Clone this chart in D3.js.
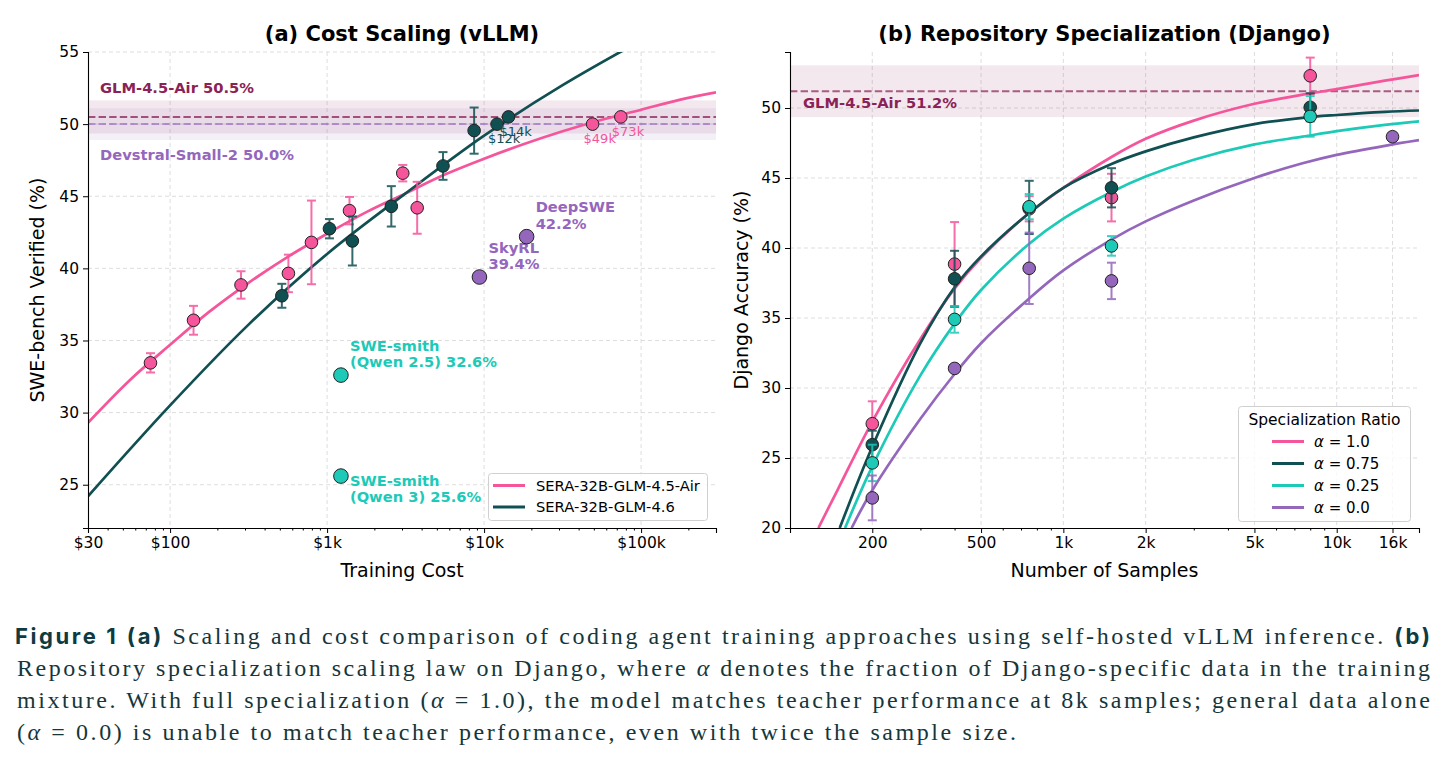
<!DOCTYPE html>
<meta charset="utf-8">
<style>
body { margin: 0; background: #fff; }
svg { font-family: "DejaVu Sans", sans-serif; }
.grid line { stroke: #d9d9d9; stroke-dasharray: 4,3; stroke-width: 0.9; }
.axis .domain { stroke: #000; stroke-width: 1.1; }
.axis line { stroke: #000; stroke-width: 1; }
.axis text { fill: #000; }
.ann { font-weight: bold; font-size: 14.7px; }
.caption text { font-family: "Liberation Serif", serif; font-size: 24px; fill: #15363b; }
.caption .hd { font-family: Inter, "DejaVu Sans", sans-serif; font-weight: 700; font-size: 22px; fill: #0d3b41; }
</style>
<svg width="1447" height="767"></svg>
<script src="https://cdn.jsdelivr.net/npm/d3@7"></script>
<script>

// ---------- (a) cost scaling ----------
var airCost  = [75, 141, 283, 567, 795, 1389, 3034, 3748, 49100, 74300];
var airScore = [33.45, 36.4, 38.85, 39.65, 41.8, 44.0, 46.6, 44.2, 50.0, 50.5];
var airErr   = [0.67, 1.0, 0.95, 1.3, 2.9, 0.95, 0.57, 1.8, 0, 0];
var airCostLabels = ["", "", "", "", "", "", "", "", "$49k", "$73k"];

var g46Cost  = [515, 1035, 1449, 2565, 5473, 8640, 12090, 14300];
var g46Score = [38.1, 42.75, 41.9, 44.3, 47.1, 49.55, 50.0, 50.5];
var g46Err   = [0.83, 0.67, 1.7, 1.4, 0.96, 1.6, 0, 0];
var g46CostLabels = ["", "", "", "", "", "", "$12k", "$14k"];

// fitted curves
var airFitCost = [30, 56, 100, 178, 316, 562, 1000, 1778, 3162, 5623, 10000, 17783, 31623, 56234, 100000, 177828, 300000];
var airFitVal  = [29.3, 32.3, 34.7, 37.0, 39.0, 40.8, 42.4, 43.9, 45.2, 46.5, 47.6, 48.6, 49.5, 50.3, 51.0, 51.7, 52.2];
var g46FitCost = [30, 100, 316, 1000, 3162, 10000, 31623, 100000];
var g46FitVal  = [24.2, 30.5, 36.1, 41.0, 45.2, 49.2, 52.7, 55.8];

var otherName  = [["SkyRL", "39.4%"], ["DeepSWE", "42.2%"], ["SWE-smith", "(Qwen 2.5) 32.6%"], ["SWE-smith", "(Qwen 3) 25.6%"]];
var otherCost  = [9340, 18660, 1225, 1225];
var otherScore = [39.4, 42.2, 32.6, 25.6];

var refName  = ["GLM-4.5-Air 50.5%", "Devstral-Small-2 50.0%"];
var refScore = [50.5, 50.0];
var refBand  = [1.15, 1.1];

var costTicks = [30, 100, 1000, 10000, 100000];
var costTickLabels = ["$30", "$100", "$1k", "$10k", "$100k"];
var scoreTicks = [25, 30, 35, 40, 45, 50, 55];

// ---------- (b) repository specialization ----------
var alphaNames = ["1.0", "0.75", "0.25", "0.0"];
var sampN = [
  [200, 400, 750, 1500, 8000],
  [200, 400, 750, 1500, 8000],
  [200, 400, 750, 1500, 8000],
  [200, 400, 750, 1500, 16000]
];
var sampAcc = [
  [27.45, 38.85, 42.8, 43.6, 52.3],
  [25.95, 37.8, 42.9, 44.3, 50.05],
  [24.65, 34.9, 42.95, 40.15, 49.4],
  [22.15, 31.4, 38.55, 37.65, 47.95]
];
var sampErr = [
  [1.6, 3.0, 0.9, 1.7, 1.3],
  [1.0, 2.0, 1.9, 1.4, 1.0],
  [1.3, 0.95, 0.9, 0.7, 1.45],
  [1.6, 0, 2.55, 1.3, 0]
];
var fitN = [
  [127, 150, 200, 300, 400, 500, 750, 1000, 1500, 2000, 3000, 5000, 7500, 10000, 15000, 20000],
  [152, 200, 300, 400, 500, 750, 1000, 1500, 2000, 3000, 5000, 7500, 10000, 15000, 20000],
  [159, 200, 300, 400, 500, 750, 1000, 1500, 2000, 3000, 5000, 7500, 10000, 15000, 20000],
  [168, 200, 300, 400, 500, 750, 1000, 1500, 2000, 3000, 5000, 7500, 10000, 15000, 20000]
];
var fitAcc = [
  [20.0, 22.8, 27.6, 33.5, 37.1, 39.3, 42.5, 44.3, 46.5, 47.8, 49.1, 50.3, 50.95, 51.35, 51.95, 52.35],
  [20.0, 25.8, 33.2, 37.2, 39.4, 42.5, 44.3, 46.0, 46.9, 47.9, 48.85, 49.3, 49.5, 49.72, 49.82],
  [20.0, 24.4, 30.9, 34.6, 37.0, 40.3, 42.1, 44.0, 45.1, 46.3, 47.4, 47.95, 48.35, 48.8, 49.05],
  [20.0, 22.7, 27.8, 31.0, 33.2, 36.4, 38.4, 40.6, 41.9, 43.4, 45.0, 46.05, 46.65, 47.3, 47.7]
];
var teacherName = "GLM-4.5-Air 51.2%";
var teacherAcc = 51.2, teacherBand = 1.85;

var sampTicks = [200, 500, 1000, 2000, 5000, 10000, 16000];
var sampTickLabels = ["200", "500", "1k", "2k", "5k", "10k", "16k"];
var accTicks = [20, 25, 30, 35, 40, 45, 50];

// ---------- colours ----------
var pink = "#f5559b", dark = "#104f52", cyan = "#1ccab7", purple = "#9467bd", maroon = "#8b2256";
var alphaColors = [pink, dark, cyan, purple];

var svg = d3.select("svg");
svg.append("rect").attr("width", 1447).attr("height", 767).attr("fill", "#fff");

var defs = svg.append("defs");
defs.append("clipPath").attr("id", "clipA").append("rect").attr("x", 88).attr("y", 52).attr("width", 628).attr("height", 476);
defs.append("clipPath").attr("id", "clipB").append("rect").attr("x", 790).attr("y", 52).attr("width", 629).attr("height", 476);

function errbars(g, xs, ys, es, x, y, color) {
  xs.forEach(function(d, i) {
    if (!es[i]) return;
    var px = x(d), y1 = y(ys[i] - es[i]), y2 = y(ys[i] + es[i]);
    var e = g.append("g").attr("stroke", color).attr("stroke-width", 2).attr("opacity", 0.85);
    e.append("line").attr("x1", px).attr("x2", px).attr("y1", y1).attr("y2", y2);
    e.append("line").attr("x1", px - 4.5).attr("x2", px + 4.5).attr("y1", y1).attr("y2", y1);
    e.append("line").attr("x1", px - 4.5).attr("x2", px + 4.5).attr("y1", y2).attr("y2", y2);
  });
}

function dots(g, xs, ys, x, y, color, r) {
  g.selectAll(null).data(xs).enter().append("circle")
    .attr("cx", function(d) { return x(d); })
    .attr("cy", function(d, i) { return y(ys[i]); })
    .attr("r", r)
    .attr("fill", color)
    .attr("stroke", "#222")
    .attr("stroke-width", 1);
}

function styleAxis(g, size) {
  g.attr("class", "axis").attr("font-family", "DejaVu Sans, sans-serif").attr("font-size", size);
}

// ================= panel (a) =================
var xa = d3.scaleLog().domain([30, 300000]).range([88, 716]);
var ya = d3.scaleLinear().domain([22, 55]).range([528, 52]);
var A = svg.append("g");

var gridA = A.append("g").attr("class", "grid");
gridA.selectAll(null).data(costTicks.slice(1)).enter().append("line")
  .attr("x1", xa).attr("x2", xa).attr("y1", 52).attr("y2", 528);
gridA.selectAll(null).data(scoreTicks).enter().append("line")
  .attr("x1", 88).attr("x2", 716).attr("y1", ya).attr("y2", ya);

var refColors = [maroon, purple];
refScore.forEach(function(v, i) {
  A.append("rect").attr("x", 88).attr("width", 628)
    .attr("y", ya(v + refBand[i])).attr("height", ya(v - refBand[i]) - ya(v + refBand[i]))
    .attr("fill", refColors[i]).attr("opacity", 0.1);
});
refScore.forEach(function(v, i) {
  A.append("line").attr("x1", 88).attr("x2", 716).attr("y1", ya(v)).attr("y2", ya(v))
    .attr("stroke", refColors[i]).attr("stroke-width", 2).attr("stroke-dasharray", "7.4,3.2")
    .attr("opacity", i == 0 ? 0.75 : 0.65);
});
A.append("text").attr("class", "ann").attr("x", 100).attr("y", ya(52.5)).attr("dy", "0.35em")
  .attr("fill", maroon).text(refName[0]);
A.append("text").attr("class", "ann").attr("x", 100).attr("y", ya(47.9)).attr("dy", "0.35em")
  .attr("fill", purple).text(refName[1]);

var lineA = function(xs) {
  return d3.line().curve(d3.curveCatmullRom.alpha(0.5))
    .x(function(d) { return xa(d); })
    .y(function(d, i) { return ya(xs[i]); });
};
var curvesA = A.append("g").attr("clip-path", "url(#clipA)");
curvesA.append("path").attr("d", lineA(airFitVal)(airFitCost))
  .attr("fill", "none").attr("stroke", pink).attr("stroke-width", 2.7);
curvesA.append("path").attr("d", lineA(g46FitVal)(g46FitCost))
  .attr("fill", "none").attr("stroke", dark).attr("stroke-width", 2.7);

errbars(A, airCost, airScore, airErr, xa, ya, pink);
dots(A, airCost, airScore, xa, ya, pink, 6.3);
errbars(A, g46Cost, g46Score, g46Err, xa, ya, dark);
dots(A, g46Cost, g46Score, xa, ya, dark, 6.3);

function costLabels(labels, xs, ys, color) {
  labels.forEach(function(t, i) {
    if (!t) return;
    A.append("text").attr("x", xa(xs[i]) - 9).attr("y", ya(ys[i]) + 19)
      .attr("font-size", 13).attr("fill", color).text(t);
  });
}
costLabels(g46CostLabels, g46Cost, g46Score, dark);
costLabels(airCostLabels, airCost, airScore, pink);

var otherColors = [purple, purple, cyan, cyan];
otherCost.forEach(function(c, i) {
  var px = xa(c), py = ya(otherScore[i]);
  var off = i == 3 ? [4.5, 20.5] : [-29.5, -13];
  otherName[i].forEach(function(t, k) {
    A.append("text").attr("class", "ann").attr("x", px + 9).attr("y", py + off[k]).attr("dy", "0.35em")
      .attr("fill", otherColors[i]).text(t);
  });
});
otherCost.forEach(function(c, i) {
  dots(A, [c], [otherScore[i]], xa, ya, otherColors[i], 7.3);
});

// legend (a)
var legA = A.append("g");
legA.append("rect").attr("x", 488.5).attr("y", 473.5).attr("width", 219).attr("height", 47).attr("rx", 3)
  .attr("fill", "#fff").attr("fill-opacity", 0.8).attr("stroke", "#d0d0d0");
[["SERA-32B-GLM-4.5-Air", pink], ["SERA-32B-GLM-4.6", dark]].forEach(function(d, i) {
  var yy = 485.5 + i * 21.5;
  legA.append("line").attr("x1", 493).attr("x2", 525).attr("y1", yy).attr("y2", yy)
    .attr("stroke", d[1]).attr("stroke-width", 3);
  legA.append("text").attr("x", 536).attr("y", yy).attr("dy", "0.35em").attr("font-size", 14.7).text(d[0]);
});

// axes (a)
var axA = A.append("g").attr("transform", "translate(0,528)")
  .call(d3.axisBottom(xa).tickValues(costTicks).tickFormat(function(d, i) { return costTickLabels[i]; }).tickSize(5).tickPadding(4));
styleAxis(axA, 15.5);
var minorA = xa.ticks().filter(function(d) { return costTicks.indexOf(d) < 0; });
var mA = A.append("g").attr("transform", "translate(0,528)")
  .call(d3.axisBottom(xa).tickValues(minorA).tickFormat("").tickSize(2.5));
styleAxis(mA, 10);
mA.select(".domain").remove();
var ayA = A.append("g").attr("transform", "translate(88,0)")
  .call(d3.axisLeft(ya).tickValues(scoreTicks).tickSize(5).tickPadding(4));
styleAxis(ayA, 15.5);

A.append("text").attr("x", 402).attr("y", 577).attr("text-anchor", "middle").attr("font-size", 19).text("Training Cost");
A.append("text").attr("transform", "translate(44,290) rotate(-90)").attr("text-anchor", "middle")
  .attr("font-size", 19).text("SWE-bench Verified (%)");
A.append("text").attr("x", 402).attr("y", 41).attr("text-anchor", "middle").attr("font-size", 21)
  .attr("font-weight", "bold").text("(a) Cost Scaling (vLLM)");

// ================= panel (b) =================
var xb = d3.scaleLog().domain([100, 20000]).range([790, 1419]);
var yb = d3.scaleLinear().domain([20, 54]).range([528, 52]);
var B = svg.append("g");

var gridB = B.append("g").attr("class", "grid");
gridB.selectAll(null).data(sampTicks).enter().append("line")
  .attr("x1", xb).attr("x2", xb).attr("y1", 52).attr("y2", 528);
gridB.selectAll(null).data(accTicks.slice(1)).enter().append("line")
  .attr("x1", 790).attr("x2", 1419).attr("y1", yb).attr("y2", yb);

B.append("rect").attr("x", 790).attr("width", 629)
  .attr("y", yb(teacherAcc + teacherBand)).attr("height", yb(teacherAcc - teacherBand) - yb(teacherAcc + teacherBand))
  .attr("fill", maroon).attr("opacity", 0.1);
B.append("line").attr("x1", 790).attr("x2", 1419).attr("y1", yb(teacherAcc)).attr("y2", yb(teacherAcc))
  .attr("stroke", maroon).attr("stroke-width", 2).attr("stroke-dasharray", "7.4,3.2").attr("opacity", 0.7);
B.append("text").attr("class", "ann").attr("x", 803).attr("y", yb(50.4)).attr("dy", "0.35em")
  .attr("fill", maroon).text(teacherName);

var curvesB = B.append("g").attr("clip-path", "url(#clipB)");
fitN.forEach(function(ns, k) {
  var line = d3.line().curve(d3.curveCatmullRom.alpha(0.5))
    .x(function(d) { return xb(d); })
    .y(function(d, i) { return yb(fitAcc[k][i]); });
  curvesB.append("path").attr("d", line(ns)).attr("fill", "none")
    .attr("stroke", alphaColors[k]).attr("stroke-width", 2.7);
});
sampN.forEach(function(ns, k) {
  errbars(B, ns, sampAcc[k], sampErr[k], xb, yb, alphaColors[k]);
  dots(B, ns, sampAcc[k], xb, yb, alphaColors[k], 6.3);
});

// legend (b)
var legB = B.append("g");
legB.append("rect").attr("x", 1238.5).attr("y", 406.5).attr("width", 172).attr("height", 115).attr("rx", 3)
  .attr("fill", "#fff").attr("fill-opacity", 0.8).attr("stroke", "#d0d0d0");
legB.append("text").attr("x", 1324.5).attr("y", 420).attr("dy", "0.35em").attr("text-anchor", "middle")
  .attr("font-size", 15.5).text("Specialization Ratio");
alphaNames.forEach(function(a, i) {
  var yy = 441.5 + i * 22;
  legB.append("line").attr("x1", 1272).attr("x2", 1304).attr("y1", yy).attr("y2", yy)
    .attr("stroke", alphaColors[i]).attr("stroke-width", 3);
  var t = legB.append("text").attr("x", 1314).attr("y", yy).attr("dy", "0.35em").attr("font-size", 15);
  t.append("tspan").attr("font-style", "italic").text("α");
  t.append("tspan").text(" = " + a);
});

// axes (b)
var axB = B.append("g").attr("transform", "translate(0,528)")
  .call(d3.axisBottom(xb).tickValues(sampTicks).tickFormat(function(d, i) { return sampTickLabels[i]; }).tickSize(5).tickPadding(4));
styleAxis(axB, 15.5);
var minorB = xb.ticks().filter(function(d) { return sampTicks.indexOf(d) < 0; });
var mB = B.append("g").attr("transform", "translate(0,528)")
  .call(d3.axisBottom(xb).tickValues(minorB).tickFormat("").tickSize(2.5));
styleAxis(mB, 10);
mB.select(".domain").remove();
var ayB = B.append("g").attr("transform", "translate(790,0)")
  .call(d3.axisLeft(yb).tickValues(accTicks).tickSize(5).tickPadding(4));
styleAxis(ayB, 15.5);

B.append("text").attr("x", 1104.5).attr("y", 577).attr("text-anchor", "middle").attr("font-size", 19).text("Number of Samples");
B.append("text").attr("transform", "translate(748,290) rotate(-90)").attr("text-anchor", "middle")
  .attr("font-size", 19).text("Django Accuracy (%)");
B.append("text").attr("x", 1104.5).attr("y", 41).attr("text-anchor", "middle").attr("font-size", 21)
  .attr("font-weight", "bold").text("(b) Repository Specialization (Django)");

// ================= caption =================
var cap = svg.append("g").attr("class", "caption");
var l1 = cap.append("text").attr("x", 15).attr("y", 644).attr("textLength", 1415).attr("lengthAdjust", "spacing");
l1.append("tspan").attr("class", "hd").text("Figure 1");
l1.append("tspan").text("  ");
l1.append("tspan").attr("class", "hd").text("(a)");
l1.append("tspan").text(" Scaling and cost comparison of coding agent training approaches using self-hosted vLLM inference. ");
l1.append("tspan").attr("class", "hd").text("(b)");

var l2 = cap.append("text").attr("x", 17).attr("y", 676).attr("textLength", 1413).attr("lengthAdjust", "spacing");
l2.append("tspan").text("Repository specialization scaling law on Django, where ");
l2.append("tspan").attr("font-style", "italic").text("α");
l2.append("tspan").text(" denotes the fraction of Django-specific data in the training");

var l3 = cap.append("text").attr("x", 17).attr("y", 708).attr("textLength", 1413).attr("lengthAdjust", "spacing");
l3.append("tspan").text("mixture. With full specialization (");
l3.append("tspan").attr("font-style", "italic").text("α");
l3.append("tspan").text(" = 1.0), the model matches teacher performance at 8k samples; general data alone");

var l4 = cap.append("text").attr("x", 17).attr("y", 740).attr("textLength", 999).attr("lengthAdjust", "spacing");
l4.append("tspan").text("(");
l4.append("tspan").attr("font-style", "italic").text("α");
l4.append("tspan").text(" = 0.0) is unable to match teacher performance, even with twice the sample size.");

</script>
